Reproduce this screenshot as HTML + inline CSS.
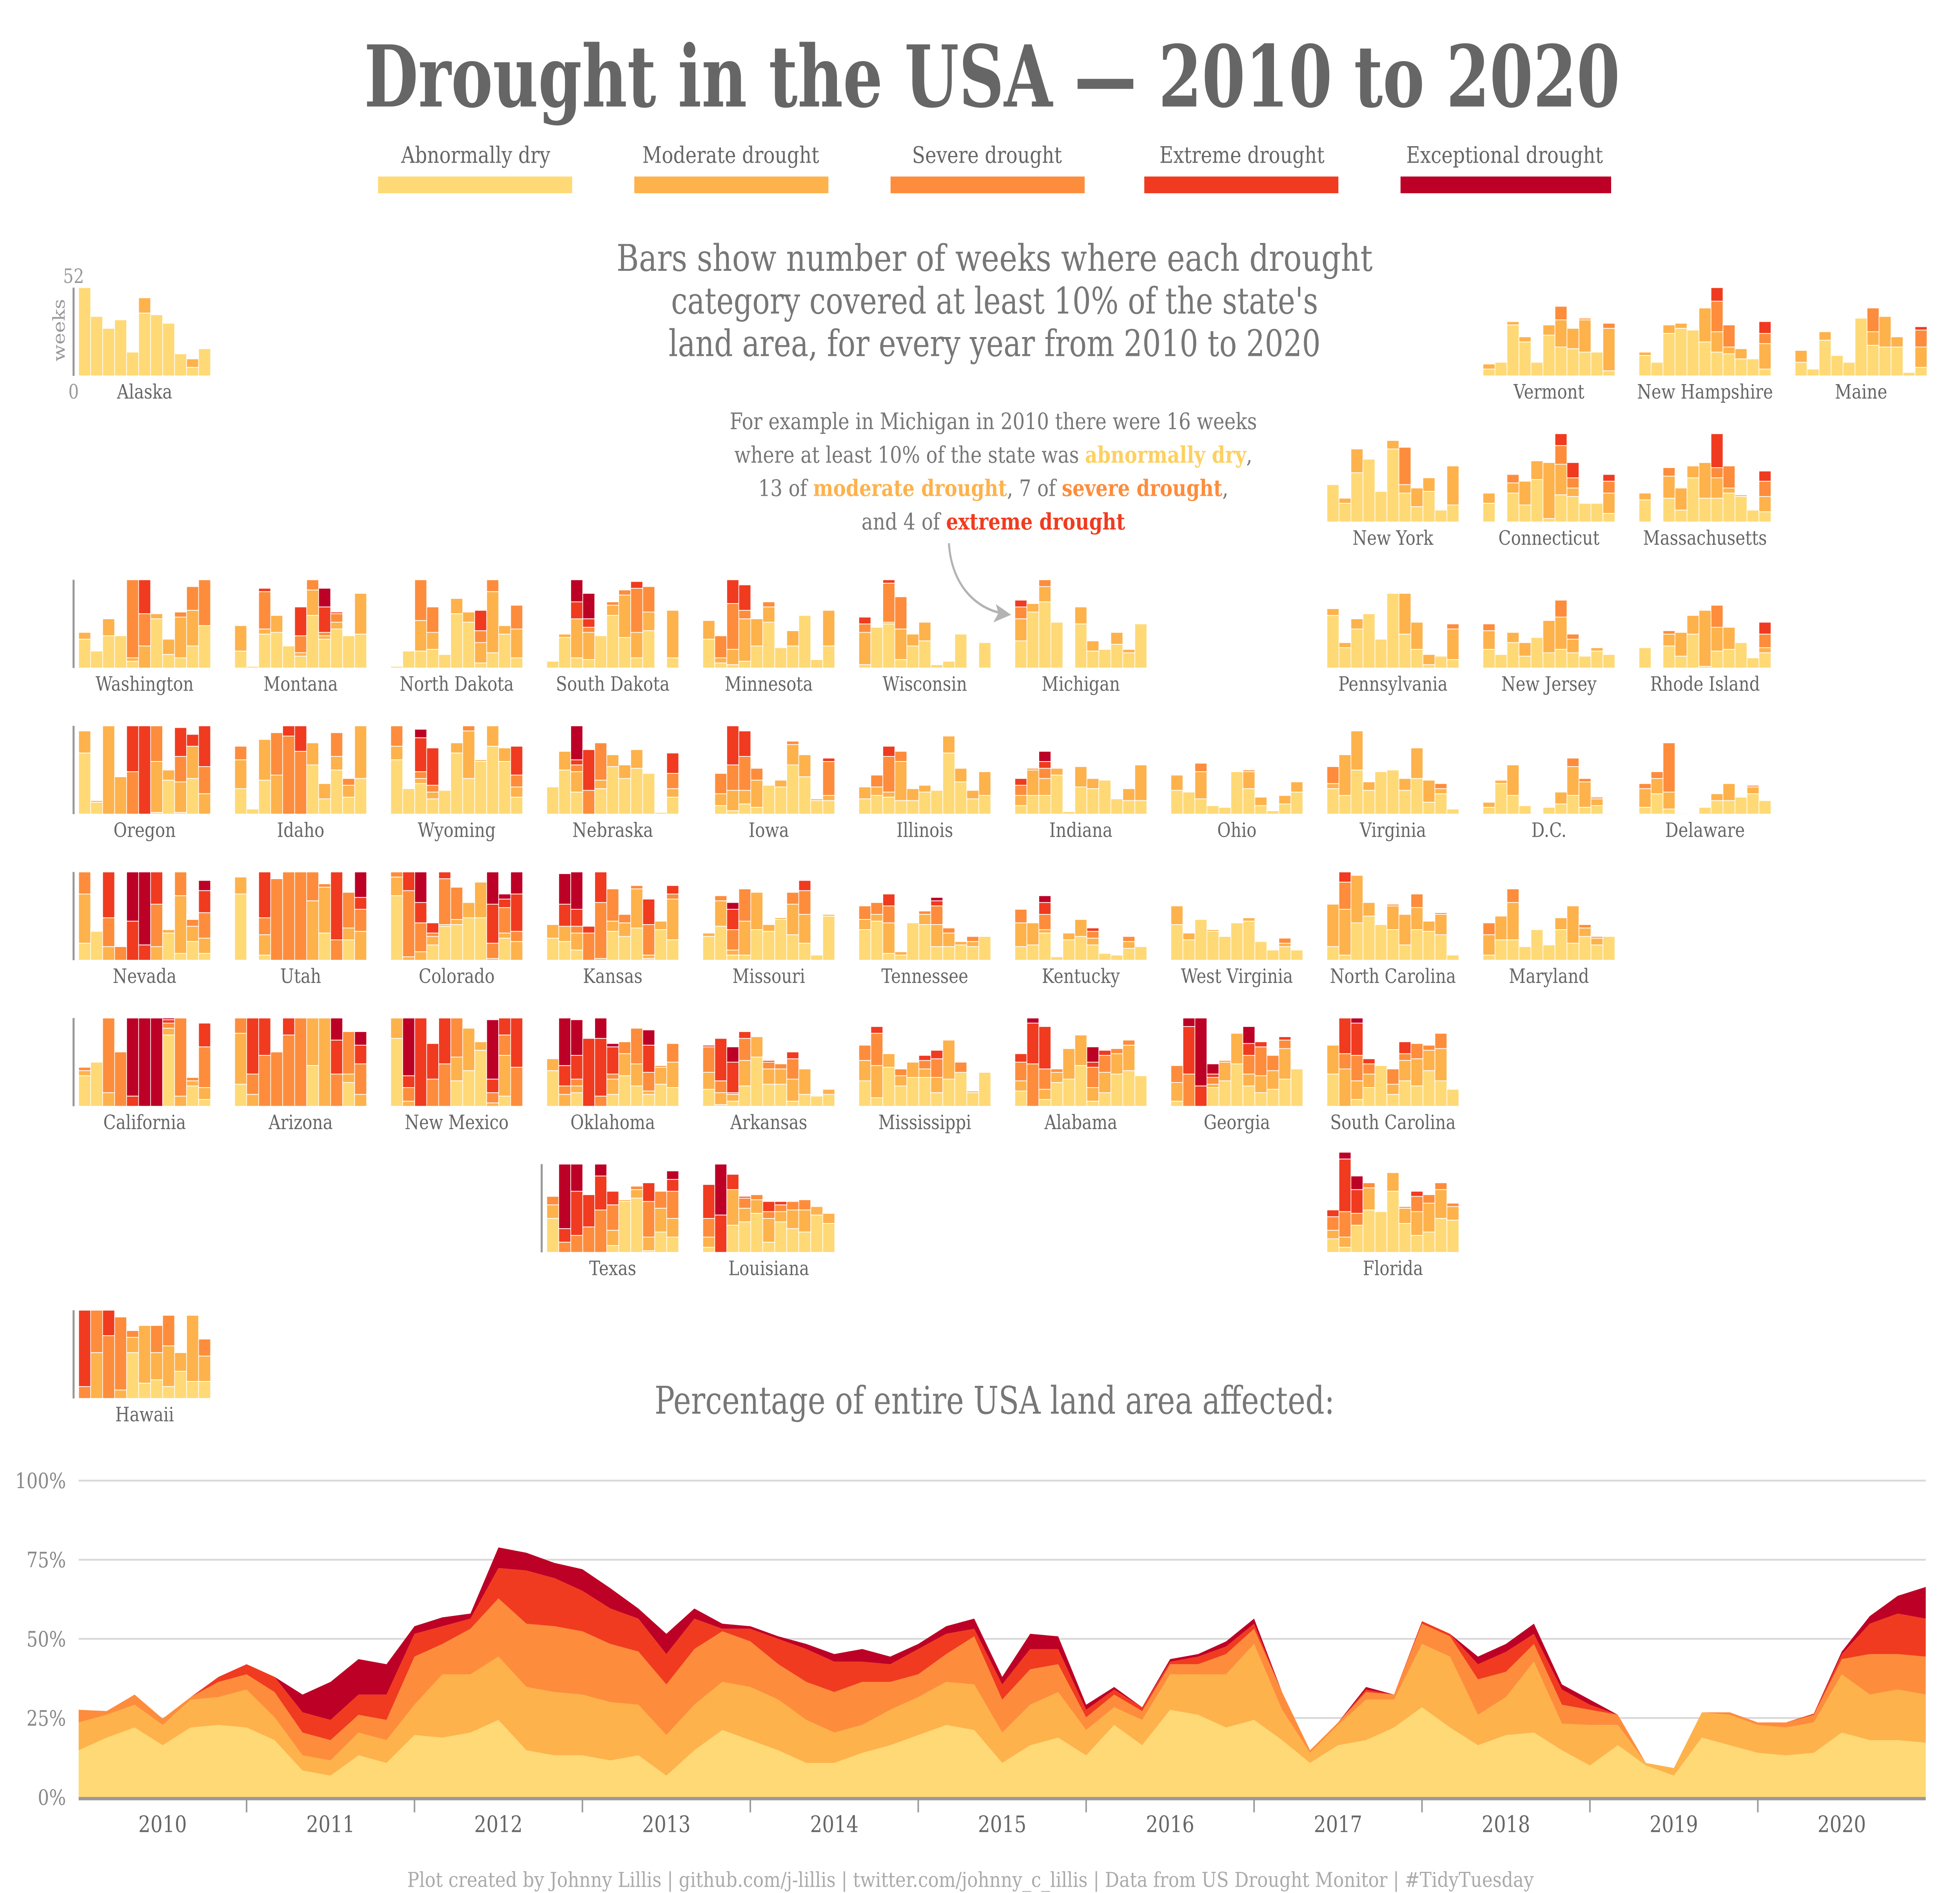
<!DOCTYPE html>
<html><head><meta charset="utf-8"><title>Drought in the USA</title>
<style>
html,body{margin:0;padding:0;background:#fff;overflow:hidden;width:100%;height:100%;}
svg{display:block;width:100vw;height:100vh;}
text{font-family:"DejaVu Serif","Liberation Serif",serif;}
</style></head>
<body>
<svg id="chart" xmlns="http://www.w3.org/2000/svg" viewBox="0 0 1545 1244" preserveAspectRatio="none">
<rect x="0" y="0" width="1545" height="1244" fill="#fff"/>
<text x="782" y="70" text-anchor="middle" font-size="56" font-weight="bold" fill="#666" textLength="990" lengthAdjust="spacingAndGlyphs">Drought in the USA — 2010 to 2020</text>
<g font-size="15" fill="#666" text-anchor="middle">
 <g><text x="375" y="107">Abnormally dry</text><rect x="298" y="116" width="153" height="11" fill="#fed976"/></g>
 <g><text x="576" y="107">Moderate drought</text><rect x="500" y="116" width="153" height="11" fill="#feb24c"/></g>
 <g><text x="778" y="107">Severe drought</text><rect x="702" y="116" width="153" height="11" fill="#fd8d3c"/></g>
 <g><text x="979" y="107">Extreme drought</text><rect x="902" y="116" width="153" height="11" fill="#f03b20"/></g>
 <g><text x="1186" y="107">Exceptional drought</text><rect x="1104" y="116" width="166" height="11" fill="#bd0026"/></g>
</g>
<g font-size="24" fill="#777" text-anchor="middle">
 <text x="784" y="178" textLength="596" lengthAdjust="spacingAndGlyphs">Bars show number of weeks where each drought</text>
 <text x="784" y="206" textLength="510" lengthAdjust="spacingAndGlyphs">category covered at least 10% of the state's</text>
 <text x="784" y="234" textLength="514" lengthAdjust="spacingAndGlyphs">land area, for every year from 2010 to 2020</text>
</g>
<g font-size="15" fill="#777" text-anchor="middle">
 <text x="783" y="282">For example in Michigan in 2010 there were 16 weeks</text>
 <text x="783" y="304">where at least 10% of the state was <tspan fill="#fed060" font-weight="bold">abnormally dry</tspan>,</text>
 <text x="783" y="326">13 of <tspan fill="#feb24c" font-weight="bold">moderate drought</tspan>, 7 of <tspan fill="#fd8d3c" font-weight="bold">severe drought</tspan>,</text>
 <text x="783" y="348">and 4 of <tspan fill="#f03b20" font-weight="bold">extreme drought</tspan></text>
</g>
<path d="M748,357 C750,385 770,400 790,403" fill="none" stroke="#b3b3b3" stroke-width="1.6"/>
<path d="M797,404 L785,397 L787,403 L783,409 Z" fill="#b3b3b3"/>
<g id="panels"></g>
<text x="784" y="929" text-anchor="middle" font-size="25" fill="#777" textLength="536" lengthAdjust="spacingAndGlyphs">Percentage of entire USA land area affected:</text>
<g id="area"></g>
<text x="765" y="1240" text-anchor="middle" font-size="13.5" fill="#aaa" textLength="888" lengthAdjust="spacingAndGlyphs">Plot created by Johnny Lillis | github.com/j-lillis | twitter.com/johnny_c_lillis | Data from US Drought Monitor | #TidyTuesday</text>
</svg>
<script>
// ---------- data: weeks per year (2010..2020), per category [D0,D1,D2,D3,D4]
const years = [2010,2011,2012,2013,2014,2015,2016,2017,2018,2019,2020];
const categories = ["Abnormally dry","Moderate drought","Severe drought","Extreme drought","Exceptional drought"];
const stateKeys = ["AK","VT","NH","ME","NY","CT","MA","WA","MT","ND","SD","MN","WI","MI","PA","NJ","RI","OR","ID","WY","NE","IA","IL","IN","OH","VA","DC","DE","NV","UT","CO","KS","MO","TN","KY","WV","NC","MD","CA","AZ","NM","OK","AR","MS","AL","GA","SC","TX","LA","FL","HI"];
const stateLabels = ["Alaska","Vermont","New Hampshire","Maine","New York","Connecticut","Massachusetts","Washington","Montana","North Dakota","South Dakota","Minnesota","Wisconsin","Michigan","Pennsylvania","New Jersey","Rhode Island","Oregon","Idaho","Wyoming","Nebraska","Iowa","Illinois","Indiana","Ohio","Virginia","D.C.","Delaware","Nevada","Utah","Colorado","Kansas","Missouri","Tennessee","Kentucky","West Virginia","North Carolina","Maryland","California","Arizona","New Mexico","Oklahoma","Arkansas","Mississippi","Alabama","Georgia","South Carolina","Texas","Louisiana","Florida","Hawaii"];
const stateWeeks = {
AK:[[52],[35],[28],[33],[14],[37,9],[36],[31],[13],[5,5],[16]],
VT:[[4,3],[8],[30,2],[20,3],[8],[24,6],[17,16,8],[16,12],[14,19,1],[14],[3,25,3]],
NH:[[12,2],[8],[25,5],[28,3],[27],[20,20],[14,12,18,8],[13,4,13],[10,6],[10],[4,15,6,7]],
ME:[[8,7],[4],[21,5],[12],[8],[34],[18,8,14],[17,18],[17,6],[2],[5,12,10,2]],
NY:[[22],[11,3],[29,14],[37],[18],[43,5],[17,5,22],[9,11],[18,8],[7],[10,23]],
CT:[[11,6],[0],[17,6,5],[10,14],[25,11],[2,33],[16,18,11,7],[15,5,6,9],[11],[11],[5,12,7,4]],
MA:[[13,4],[0],[14,13,5],[7,13],[26,7],[14,21],[14,12,6,20],[17,3,13],[15,1],[7],[6,9,9,6]],
WA:[[17,4],[10],[19,10],[19],[4,2,46],[0,13,19,20],[29,3],[8,9],[6,24,3],[13,21,14],[25,0,27]],
MT:[[10,15],[1],[20,3,22,2],[21,10],[13],[7,2,10,17],[31,15,6],[17,2,2,15,11],[23,4,5,1],[19],[20,24]],
ND:[[1],[10],[10,18,24],[11,10,15],[8],[32,9],[27,6],[3,12,7,12],[9,36,7],[20,5],[6,17,14]],
SD:[[4],[18,2],[6,23,0,10,13],[5,16,3,5,15],[19],[31,6,2],[18,25,3],[6,15,26,4],[22,11,15],[0],[6,28]],
MN:[[17,11],[3,3,13],[2,9,27,14],[4,25,5,15],[13,16],[27,9,3],[12],[13,9],[31],[5],[13,21]],
WI:[[2,19,5,4],[24],[26,1,23,2],[5,18,19],[13,7],[16,11],[2],[4],[20],[0],[15]],
MI:[[16,13,7,4],[33,5],[39,9,4],[27],[0.5],[26,10],[10,6],[11],[14,7],[9,2],[26]],
PA:[[31,4],[12,3],[23,6],[32],[17],[44],[20,24],[11,16],[2,6],[7],[5,18,3]],
NJ:[[11,11,4],[8],[15,6],[7,8],[18],[9,19],[11,19,10],[9,8,3],[7],[10,2],[8]],
RI:[[12],[0],[13,7,2],[7,14],[20,11],[1,33],[10,14,13],[11,13],[15],[6],[9,3,8,7]],
OR:[[36,13],[7,1],[0,52],[0,22],[0,0,25,27],[0,0,0,52],[1,30,21],[20,6],[1,18,15,17],[21,19,0,7],[0,12,16,24]],
ID:[[15,17,8],[3],[20,24],[0,23,25],[0,0,46,6],[0,0,37,15],[29,13],[9,9],[26,8,14],[10,7,4],[21,31]],
WY:[[32,8,12],[15],[18,3,4,20,5],[9,4,4,22],[14],[36,6],[21,28,3],[31,1],[40,12],[31,8],[10,6,7,17]],
NE:[[16],[26,11],[13,12,4,3,20],[0,0,14,24],[15,5,22],[28,7],[21,8],[27,11],[24],[1],[10,5,9,12]],
IA:[[0],[5,7,12],[2,12,15,23],[6,8,20,15],[4,16,7],[17],[16,4],[29,12,2],[22,13],[8,1],[8,3,20,2]],
IL:[[9,7],[11,5,7],[10,3,21,6],[8,23,6],[8,7],[13,4],[14],[36,10],[19,8],[9,5],[11,14]],
IN:[[5,6,6,4],[11,15,1],[11,10,6,4,6],[23,4],[1.5],[16,12],[15,6],[20],[9],[8,7],[8,21]],
OH:[[14,9],[13],[9,16,5],[5],[4],[25],[15,10,1],[5,5],[2],[6,5],[13,6]],
VA:[[15,3,10],[11,24],[26,23],[14,5],[25],[26],[14,7],[21,18],[7,13],[12,3,3],[3]],
DC:[[4,3],[18,2],[11,18],[5],[0],[4],[6,7],[11,17,5],[4,15,2],[5,4,1],[0.5]],
DE:[[4,11,3],[12,9,4],[3,10,29],[0.5],[0],[4],[8,4],[8,10],[10],[12,4,1],[8]],
NV:[[10,29,13],[17],[0,8,17,27],[0,0,8],[0,0,0,23,29],[0,0,0,9,43],[0,8,25,19],[16,2],[4,34,14],[11,9,4],[4,9,15,13,6]],
UT:[[39,10],[0],[3,12,10,27],[0,0,48],[0,0,52],[0,0,52],[0,35,17],[16,27,2],[0,0,12,40],[12,7,21],[0,17,13,7,15]],
CO:[[38,11,3],[0,2,39,11],[0,5,17,12,18],[9,5,2,6],[20,1,27,4],[21,3,19],[25,9],[25,21],[0,1,9,23,19],[13,3,15,5,3],[0,11,6,22,13]],
KS:[[13,8],[11,9,0,13,18],[6,10,4,10,22],[0,0,16,4],[0,1,33,18],[17,6,19],[14,8,5],[19,23,2],[1,2,18,15],[18,5],[12,24,3,5]],
MO:[[14,2],[20,15,3],[3,3,12,12,4],[3,20,19],[18,22],[17,4],[24,1],[15,18,7],[10,17,14,6],[3],[26,1]],
TN:[[18,6,8],[23,4,7],[4,18,10,7],[3,2],[22],[21,6,2],[8,13,11,3,2],[8,8,3],[9,2],[8,3,3],[14]],
KY:[[8,14,8],[9,13],[16,2,9,7,4],[2],[12,4],[14,10],[9,4,4,2],[4],[3],[7,4,3],[8]],
WV:[[21,11],[12,4],[24],[17,1],[14],[22],[23,2],[11],[6],[8,2,3],[6]],
NC:[[8,25],[3,27,16,6],[22,28],[26,8],[21],[18,14,1],[9,18],[18,13,8],[17,6],[15,12,1],[3]],
MD:[[3,12,7],[12,14],[12,22,8],[8],[18],[9],[18,7],[10,22],[14,5,2],[9,4,1],[14]],
CA:[[18,3,2],[26],[0,8,44],[0,0,32],[0,0,0,6,46],[0,0,0,0,52],[0,0,0,0,52],[42,4,3,2,1],[0,6,46],[12,3,2],[4,7,24,14]],
AZ:[[13,30,9],[0,7,12,33],[0,0,30,22],[0,0,32],[0,0,42,10],[0,0,52],[24,28],[0,52],[0,0,19,20,13],[14,5,25],[0,7,18,11,8]],
NM:[[40,12],[0,3,8,7,34],[0,0,0,52],[0,0,16,21],[0,0,25,27],[15,14,23],[21,25],[33,5],[0,2,6,8,35],[6,24,12,10],[0,0,23,29]],
OK:[[21,7],[0,7,5,12,28],[8,4,4,14,21],[0,0,0,40],[0,0,6,34,12],[7,9,3,16,2],[18,13,7],[12,13,21],[7,2,11,16,9],[13,10,1],[11,15,11]],
AR:[[10,10,15,1],[1,7,7,25],[3,4,1,18,9],[12,15,13,4],[29,12],[13,9,4,1],[13,9,3],[3,13,12,4],[7,15],[6],[7,3]],
MS:[[15,12,9],[5,19,19,4],[23,8],[12,6,4],[17,9],[17,5,5,3],[8,9,11,5],[16,23],[20,0,6],[8,1],[20]],
AL:[[9,6,11,5],[0,0,25,24,3],[4,6,12,25],[14,6,2],[16,18],[24,18],[3,8,12,3,9],[8,12,10,3],[19,12,3],[21,15,3],[18]],
GA:[[3,11,10],[0,0,19,28,5],[0,0,0,12,40],[11,2,4,2,6],[15,11,1],[25,18],[12,7,11,7,10],[8,10,17,3],[10,11,9],[16,18,5,2],[22]],
SC:[[19,17],[0,22,9,21],[4,11,15,19,3],[11,8,6,3],[24],[7,6,9],[15,12,4,7],[12,16,9],[21,12,3],[15,19,9],[10]],
TX:[[20,8,5],[0,0,6,8,38],[0,0,10,26,16],[0,0,15,19],[0,0,25,20,7],[4,9,15,8],[30,1],[32,5,2],[1,8,21,11],[12,14,10],[9,11,16,7,5]],
LA:[[3,6,11,20],[0,0,0,22,30],[16,21,0,9],[18,8,6,1],[23,8,3],[6,14,4,6],[18,6,4,2],[14,11,5],[12,13,6],[22,5],[17,6]],
FL:[[8,5,8,4],[3,6,15,31,4],[16,0,7,14,8],[25,13,3],[24],[36,11],[17,9,1],[10,14,9,3],[12,17,5],[20,17,4],[19,8,2]],
HI:[[0,0,7,45],[0,27,25],[0,0,37,15],[0,5,43],[27,9,4],[9,34],[11,16,16],[7,24,18],[16,11],[10,39],[10,15,10]]
};
// ---------- data: % of USA land area per category (every 2 months, 2010..2020)
const areaD0 = [14.8,18.8,22,16.4,22,22.8,22,18,8.4,6.8,13.2,10.8,19.6,18.8,20.4,24.4,14.8,13.2,13.2,11.6,13.2,6.8,14.8,21.2,18,14.8,10.8,10.8,14,16.4,19.6,22.8,21.2,10.8,16.4,18.8,13.2,22.8,16.4,27.6,26,22,24.4,18,10.8,16.4,18,22,28.4,22,16.4,19.6,20.4,14.8,10,16.4,10,6.8,18.8,16.4,14,13.2,14,20.4,18,18,17.2];
const areaD1 = [8.8,7.2,7.2,6.4,8.8,8.8,12,7.2,4.8,4.8,7.2,7.2,9.6,20,18.4,20,20,20,19.2,18.4,16,12.8,14.4,15.2,16.8,16,13.6,9.6,8.8,11.2,12,13.6,14.4,9.6,12.8,14.4,8,5.6,8,11.2,12.8,16.8,24,9.6,3.2,6.4,12.8,8.8,20,22.4,9.6,12,22.4,8.4,12.8,6.4,0.8,2.4,8,9.6,8.8,8.8,9.6,18.4,14.4,16,15.2];
const areaD2 = [4,1.2,3.2,2,0.8,4.8,4.8,8,7.2,6.4,5.6,6.4,15.2,9.6,14.4,18.4,20,20.8,20,18.4,16.8,16,17.6,16,14.4,11.2,12,12.8,13.6,8.8,7.2,8.8,15.2,10.4,11.2,8.8,4,4,2.8,3.2,3.2,6.4,4.8,5.6,0.8,0.8,2.4,1.6,6.4,6.4,11.2,8,5.6,6,4.8,3.2,0,0,0,0.8,0.8,1.6,2.4,4.8,12.8,11.2,12];
const areaD3 = [0,0,0,0,0,1.6,3.2,4.8,6.4,6.4,6.4,8,7.2,5.6,3.2,9.6,16.8,15.2,12.8,11.2,10.4,9.6,9.6,0.8,4,8,10.4,9.6,6.4,5.6,8,6.4,2.4,4.8,6.4,4.8,2.4,1.6,1.2,0.8,2.4,2.4,1.6,0,0,0,0.8,0,0.8,0.8,4.8,6.3,3.2,4.8,1.6,0,0,0,0,0,0,0,0.4,1.6,9.6,12.8,12];
const areaD4 = [0,0,0,0,0,0,0,0,5.6,12,11.2,9.6,2.4,2.8,1.6,6.5,5.6,4.8,6.8,6.4,3.2,6.4,3.2,1.6,0.8,0.8,1.6,2.4,4,2.4,1.6,2.4,3.2,2.4,4.8,4,1.6,0.8,0,0.8,0.8,1.6,1.6,0,0,0,0.8,0,0,0,2.4,2.5,3.2,1.6,1.6,0,0,0,0,0,0,0,0,0.8,2.4,5.6,10];
const yTicks = [0,25,50,75,100];
const yTickLabels = ["0%","25%","50%","75%","100%"];
const yearLabels = ["2010","2011","2012","2013","2014","2015","2016","2017","2018","2019","2020"];

// ---------- layout (not data)
const colors = ["#fed976","#feb24c","#fd8d3c","#f03b20","#bd0026"];
const gridPos = {AK:[0,0],VT:[9,0],NH:[10,0],ME:[11,0],NY:[8,1],CT:[9,1],MA:[10,1],
WA:[0,2],MT:[1,2],ND:[2,2],SD:[3,2],MN:[4,2],WI:[5,2],MI:[6,2],PA:[8,2],NJ:[9,2],RI:[10,2],
OR:[0,3],ID:[1,3],WY:[2,3],NE:[3,3],IA:[4,3],IL:[5,3],IN:[6,3],OH:[7,3],VA:[8,3],DC:[9,3],DE:[10,3],
NV:[0,4],UT:[1,4],CO:[2,4],KS:[3,4],MO:[4,4],TN:[5,4],KY:[6,4],WV:[7,4],NC:[8,4],MD:[9,4],
CA:[0,5],AZ:[1,5],NM:[2,5],OK:[3,5],AR:[4,5],MS:[5,5],AL:[6,5],GA:[7,5],SC:[8,5],
TX:[3,6],LA:[4,6],FL:[8,6],HI:[0,7]};
const axisStates = ["AK","WA","OR","NV","CA","TX","HI"];
const NS = "http://www.w3.org/2000/svg";
function mk(tag, attrs, parent){const e=document.createElementNS(NS,tag);for(const k in attrs)e.setAttribute(k,attrs[k]);parent.appendChild(e);return e;}
const colX = c => 62 + c*123;
const rowB = r => 247 + r*96;
const panelH = 58, barStep = 104/11;
const wy = w => w*panelH/52;

const panels = document.getElementById("panels");
stateKeys.forEach((key, si) => {
  const [c, r] = gridPos[key];
  const x0 = colX(c), yb = rowB(r);
  const g = mk("g", {}, panels);
  
  
  if (axisStates.includes(key)) {
    const ax = mk("line", {x1:x0-4, x2:x0-4, y1:yb-panelH, y2:yb, stroke:"#999", "stroke-width":1.6}, g);
    
    
  }
  stateWeeks[key].forEach((bar, yi) => {
    let cum = 0;
    for (let k = 0; k < 5; k++) {
      const v = bar[k] || 0;
      if (v <= 0) continue;
      const rect = mk("rect", {x: x0 + yi*barStep, y: yb - wy(cum + v), width: barStep, height: wy(v), fill: colors[k], stroke:"#fff", "stroke-width":0.5}, g);
      
      
      cum += v;
    }
  });
  const t = mk("text", {x: x0 + 52, y: yb + 15, "text-anchor":"middle", "font-size":13, fill:"#666"}, g);
  
  
  t.textContent = stateLabels[si];
});
const a52 = mk("text", {x:58, y:186, "text-anchor":"middle", "font-size":13, fill:"#999"}, panels);


a52.textContent = "52";
const a0 = mk("text", {x:58, y:262, "text-anchor":"middle", "font-size":13, fill:"#999"}, panels);


a0.textContent = "0";
const aw = mk("text", {x:0, y:0, "text-anchor":"middle", "font-size":13, fill:"#999", transform:"translate(51,217) rotate(-90)"}, panels);


aw.textContent = "weeks";

// ---------- area chart
const area = document.getElementById("area");
const PX0 = 62, PX1 = 1518, PY0 = 1181, PPerPct = 2.08;
const nPts = areaD0.length;
const xScale = i => PX0 + (i/(nPts-1))*(PX1-PX0);
const yScale = p => PY0 - p*PPerPct;
yTicks.forEach((tv, i) => {
  const gl = mk("line", {x1:PX0, x2:PX1, y1:yScale(tv), y2:yScale(tv), stroke:"#d9d9d9", "stroke-width":1.2}, area);
  
  
  const tl = mk("text", {x:52, y:yScale(tv)+5, "text-anchor":"end", "font-size":14, fill:"#888"}, area);
  
  
  tl.textContent = yTickLabels[i];
});
const series = [areaD0, areaD1, areaD2, areaD3, areaD4];
const lower = new Array(nPts).fill(0);
series.forEach((s, k) => {
  const upper = s.map((v, i) => lower[i] + v);
  let d = "M" + xScale(0) + "," + yScale(upper[0]);
  for (let i = 1; i < nPts; i++) d += " L" + xScale(i) + "," + yScale(upper[i]);
  for (let i = nPts-1; i >= 0; i--) d += " L" + xScale(i) + "," + yScale(lower[i]);
  d += " Z";
  const p = mk("path", {d: d, fill: colors[k]}, area);
  
  
  for (let i = 0; i < nPts; i++) lower[i] = upper[i];
});
const base = mk("line", {x1:PX0, x2:PX1, y1:PY0+1, y2:PY0+1, stroke:"#999", "stroke-width":2.2}, area);


const yearW = (PX1-PX0)/yearLabels.length;
yearLabels.forEach((yl, i) => {
  if (i > 0) {
    const tk = mk("line", {x1:PX0+i*yearW, x2:PX0+i*yearW, y1:PY0+1, y2:PY0+10, stroke:"#999", "stroke-width":1.2}, area);
    
    
  }
  const t = mk("text", {x:PX0+(i+0.5)*yearW, y:1204, "text-anchor":"middle", "font-size":15, fill:"#666"}, area);
  
  
  t.textContent = yl;
});
</script>
</body></html>
